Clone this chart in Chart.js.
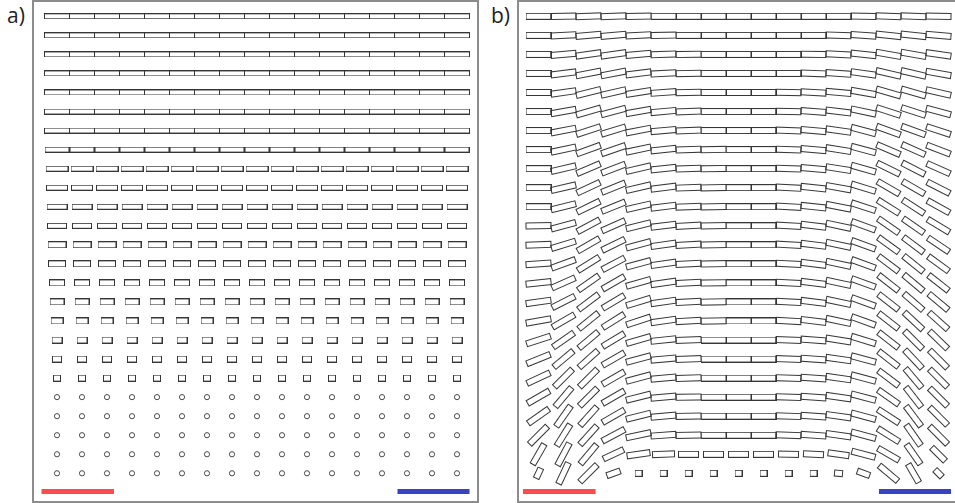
<!DOCTYPE html>
<html>
<head>
<meta charset="utf-8">
<script src="https://cdn.jsdelivr.net/npm/chart.js@4.4.1/dist/chart.umd.min.js"></script>
<style>
    body { margin: 0; width: 955px; height: 503px; overflow: hidden; background: #fff; position: relative; font-family: 'Open Sans', 'Noto Sans', sans-serif; }
    .frame { position: absolute; border: 2px solid #8c8c8c; box-sizing: border-box; }
    canvas { position: absolute; }
    .label { position: absolute; font-size: 21px; line-height: 21px; color: #1e1e1e; }
</style>
</head>
<body>
<div class="label" style="left:7px;top:5px">a)</div>
<div class="label" style="left:491px;top:5px">b)</div>
<div class="frame" style="left:32px;top:0;width:447px;height:503px"></div>
<div class="frame" style="left:517px;top:0;width:460px;height:503px"></div>
<canvas id="panelA" width="446" height="503" style="left:33px;top:0"></canvas>
<canvas id="panelB" width="437" height="503" style="left:518px;top:0"></canvas>

<script>
// grid: 17 columns x 25 rows in both panels
const columns = [0, 1, 2, 3, 4, 5, 6, 7, 8, 9, 10, 11, 12, 13, 14, 15, 16];
const rows = [0, 1, 2, 3, 4, 5, 6, 7, 8, 9, 10, 11, 12, 13, 14, 15, 16, 17, 18, 19, 20, 21, 22, 23, 24];

// panel a: rectangle size per row (0 = drawn as a circle)
const widthA = [26, 26, 26, 26, 26, 26, 26, 25, 23, 22, 21, 20, 19, 18, 16, 15, 13, 11, 10, 8, 0, 0, 0, 0, 0];
const heightA = [6, 6, 6, 6, 6, 6, 6, 6, 6, 6, 6, 6, 7, 7, 7, 7, 7, 7, 7, 7, 0, 0, 0, 0, 0];
const circleRowsA = [20, 21, 22, 23, 24];

// panel b: tilt of every rectangle in degrees (positive = right end up)
const angleB = [
    [0, 1, 2, 2, 1, 0, 0, 0, 0, 0, 0, 0, 0, -1, -2, -2, -1],
    [0, 3, 5, 5, 3, 1, 0, 0, 0, 0, 0, 0, -2, -4, -6, -6, -5],
    [0, 5, 8, 8, 5, 2, 1, 0, 0, 0, 0, -1, -3, -6, -10, -10, -8],
    [0, 7, 11, 11, 7, 3, 1, 0, 0, 0, 0, -2, -4, -8, -13, -13, -10],
    [0, 8, 14, 13, 9, 4, 1, 0, 0, 0, -1, -3, -5, -10, -16, -16, -13],
    [0, 10, 16, 15, 10, 5, 2, 0, 0, 0, -1, -4, -7, -12, -18, -18, -15],
    [0, 11, 18, 17, 11, 5, 2, 0, 0, 0, -2, -5, -8, -15, -20, -20, -18],
    [0, 12, 20, 19, 12, 6, 2, 1, 0, 0, -2, -5, -9, -15, -23, -24, -21],
    [0, 13, 23, 21, 13, 6, 2, 1, 0, 0, -2, -5, -9, -16, -26, -27, -24],
    [0, 13, 25, 22, 13, 7, 2, 1, 0, 0, -3, -6, -10, -17, -30, -30, -27],
    [0, 14, 26, 22, 13, 7, 2, 1, 0, 0, -3, -6, -11, -18, -32, -33, -29],
    [1, 15, 28, 24, 14, 7, 3, 1, 0, 0, -3, -7, -12, -20, -35, -35, -31],
    [2, 17, 30, 26, 15, 8, 3, 1, 0, 0, -3, -7, -12, -20, -36, -37, -34],
    [4, 20, 32, 28, 15, 8, 3, 1, 0, 0, -3, -7, -12, -20, -37, -39, -36],
    [6, 24, 35, 30, 16, 8, 3, 1, 0, 0, -3, -7, -12, -20, -38, -40, -38],
    [8, 27, 37, 31, 17, 8, 3, 1, 0, 0, -3, -7, -12, -20, -38, -41, -40],
    [10, 30, 39, 32, 18, 8, 3, 1, 0, 0, -3, -7, -12, -20, -38, -43, -42],
    [18, 35, 40, 31, 16, 6, 2, 0, 0, 0, -2, -4, -9, -17, -38, -45, -44],
    [22, 40, 42, 30, 15, 5, 2, 0, 0, 0, -2, -4, -8, -15, -38, -47, -45],
    [25, 45, 45, 30, 15, 5, 2, 0, 0, 0, -2, -4, -8, -15, -37, -50, -45],
    [30, 50, 45, 30, 14, 5, 1, 0, 0, 0, -2, -4, -8, -15, -35, -52, -45],
    [35, 55, 48, 30, 14, 5, 1, 0, 0, 0, -2, -4, -8, -15, -33, -53, -45],
    [45, 58, 48, 28, 12, 4, 1, 0, 0, 0, -2, -4, -8, -15, -32, -55, -45],
    [60, 62, 50, 25, 8, 2, 0, 0, 0, 0, -1, -3, -8, -15, -30, -55, -45],
    [65, 65, 45, 20, 0, 0, 0, 0, 0, 0, 0, 0, -5, -20, -40, -60, -45]
];
// panel b: rectangle lengths; only the two bottom rows differ from full length
const fullRowB = [26, 26, 26, 26, 26, 26, 26, 26, 26, 26, 26, 26, 26, 26, 26, 26, 26];
const row23B = [24, 26, 26, 23, 24, 23, 21, 21, 21, 21, 21, 21, 22, 25, 25, 25, 20];
const row24B = [12, 24, 25, 15, 8, 8, 8, 8, 8, 8, 8, 8, 9, 14, 25, 22, 11];
const heightB = 7;

// coloured bars under each panel (column units, row units)
const redBar = [-0.62, 2.28];
const blueBar = [13.62, 16.5];
const barRow = 24.95;

const strokeColor = '#363636';
const spriteCache = {};

function rectSprite(w, h) {
    const key = w + 'x' + h;
    if (spriteCache[key]) return spriteCache[key];
    const c = document.createElement('canvas');
    c.width = Math.round(w);
    c.height = Math.round(h);
    const g = c.getContext('2d');
    g.strokeStyle = strokeColor;
    g.lineWidth = 1;
    g.strokeRect(0.5, 0.5, c.width - 1, c.height - 1);
    spriteCache[key] = c;
    return c;
}

function barDataset(range, color) {
    return {
        data: [{ x: range[0], y: barRow }, { x: range[1], y: barRow }],
        showLine: true,
        borderColor: color,
        borderWidth: 5,
        borderCapStyle: 'butt',
        pointRadius: 0
    };
}

function baseOptions(xMin, xMax) {
    return {
        responsive: false,
        animation: false,
        events: [],
        devicePixelRatio: 1,
        layout: { padding: 0, autoPadding: false },
        scales: {
            x: { type: 'linear', display: false, min: xMin, max: xMax },
            y: { type: 'linear', display: false, reverse: true, min: -0.856, max: 25.56 }
        },
        plugins: { legend: { display: false }, tooltip: { enabled: false } }
    };
}

document.addEventListener('DOMContentLoaded', function() {
    // Panel a
    const rectPtsA = [];
    const rectStylesA = [];
    rows.forEach(r => {
        if (widthA[r] > 0) {
            columns.forEach(c => {
                rectPtsA.push({ x: c, y: r });
                rectStylesA.push(rectSprite(widthA[r], heightA[r]));
            });
        }
    });
    const circlePtsA = [];
    circleRowsA.forEach(r => columns.forEach(c => circlePtsA.push({ x: c, y: r })));

    new Chart(document.getElementById('panelA'), {
        type: 'scatter',
        data: {
            datasets: [
                { data: rectPtsA, pointStyle: rectStylesA, pointRadius: 5, clip: false },
                {
                    data: circlePtsA,
                    pointStyle: 'circle',
                    pointRadius: 2.6,
                    borderWidth: 1,
                    borderColor: '#4a4a4a',
                    backgroundColor: '#fff'
                },
                barDataset(redBar, '#ff4b4b'),
                barDataset(blueBar, '#3c40c8')
            ]
        },
        options: baseOptions(-0.96, 16.88)
    });

    // Panel b
    const widthB = [];
    for (let r = 0; r < 23; r++) widthB.push(fullRowB);
    widthB.push(row23B, row24B);

    const rectPtsB = [];
    const rectStylesB = [];
    const rotationsB = [];
    rows.forEach(r => {
        columns.forEach(c => {
            rectPtsB.push({ x: c, y: r });
            rectStylesB.push(rectSprite(widthB[r][c], heightB));
            rotationsB.push(-angleB[r][c]);
        });
    });

    new Chart(document.getElementById('panelB'), {
        type: 'scatter',
        data: {
            datasets: [
                { data: rectPtsB, pointStyle: rectStylesB, pointRotation: rotationsB, pointRadius: 5, clip: false },
                barDataset(redBar, '#ff4b4b'),
                barDataset(blueBar, '#3c40c8')
            ]
        },
        options: baseOptions(-0.82, 16.66)
    });
});
</script>
</body>
</html>
